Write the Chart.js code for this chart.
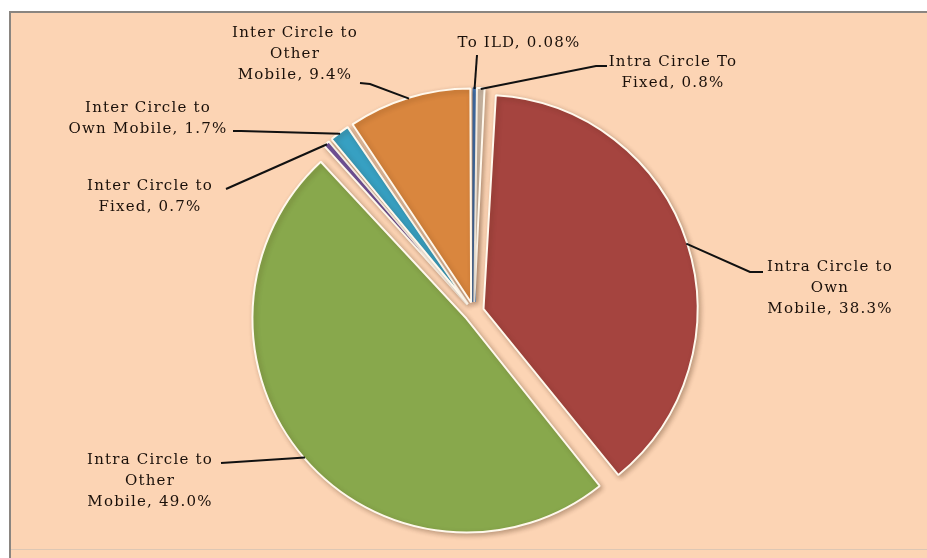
<!DOCTYPE html>
<html>
<head>
<meta charset="utf-8">
<script src="https://cdn.jsdelivr.net/npm/chart.js@4"></script>
<style>
  html, body { margin: 0; padding: 0; background: #fff; }
  canvas { display: block; }
</style>
</head>
<body>
<canvas id="chart" width="927" height="558"></canvas>
<script>
// data, clockwise from 12 o'clock
const categories = [
  'To ILD',
  'Intra Circle To\nFixed',
  'Intra Circle to\nOwn\nMobile',
  'Intra Circle to\nOther\nMobile',
  'Inter Circle to\nFixed',
  'Inter Circle to\nOwn Mobile',
  'Inter Circle to\nOther\nMobile'
];
const shares = [0.08, 0.8, 38.3, 49.0, 0.7, 1.7, 9.4];
const sliceColors = ['#3F76B8', '#CDBBA8', '#A5443F', '#88A84C', '#7355A0', '#37A0C2', '#D9863E'];
// the ILD sliver is thinner than its border, so it gets a wider edge in its own colour
const edgeColors = ['#3F76B8', '#FFF8EC', '#FFF8EC', '#FFF8EC', '#FFF8EC', '#FFF8EC', '#FFF8EC'];
const edgeWidths = [4, 2, 2, 2, 2, 2, 2];

// where each label sits (text centre x, first line y) and the bend of its leader line
const labelSpots = [
  { x: 519, y: 43, bend: [[477, 55]] },
  { x: 673, y: 62, bend: [[607, 66], [596, 66]] },
  { x: 830, y: 267, bend: [[763, 272], [750, 272]] },
  { x: 150, y: 460, bend: [[221, 463]] },
  { x: 150, y: 186, bend: [[226, 189]] },
  { x: 148, y: 108, bend: [[233, 131], [241, 131]] },
  { x: 295, y: 33, bend: [[360, 83], [370, 84]] }
];

function pct(v) {
  return (v < 0.1 ? v.toFixed(2) : v.toFixed(1)) + '%';
}

// v4 grows the radius of exploded thin slices; keep every slice the same size instead
if (Chart.ArcElement) {
  const arcDraw = Chart.ArcElement.prototype.draw;
  Chart.ArcElement.prototype.draw = function (ctx) {
    const push = (this.options.offset || 0) / 4;
    const fix = 1 - Math.sin(Math.min(Math.PI, this.circumference || 0));
    const r = this.outerRadius;
    this.outerRadius = r - push * fix;
    arcDraw.call(this, ctx);
    this.outerRadius = r;
  };
}

const frame = {
  id: 'frame',
  beforeDraw(chart) {
    const ctx = chart.ctx;
    ctx.save();
    ctx.fillStyle = '#ffffff';
    ctx.fillRect(0, 0, chart.width, chart.height);
    ctx.fillStyle = '#FCD4B4';
    ctx.fillRect(10, 12, chart.width - 10, chart.height - 12);
    ctx.strokeStyle = '#8a8580';
    ctx.lineWidth = 2;
    ctx.beginPath();
    ctx.moveTo(10, chart.height);
    ctx.lineTo(10, 12);
    ctx.lineTo(chart.width, 12);
    ctx.stroke();
    ctx.strokeStyle = 'rgba(200,190,180,0.6)';
    ctx.lineWidth = 1;
    ctx.beginPath();
    ctx.moveTo(11, 549.5);
    ctx.lineTo(chart.width, 549.5);
    ctx.stroke();
    ctx.restore();
  },
  beforeDatasetsDraw(chart) {
    const ctx = chart.ctx;
    ctx.save();
    ctx.shadowColor = 'rgba(60,30,10,0.3)';
    ctx.shadowBlur = 5;
    ctx.shadowOffsetX = 2;
    ctx.shadowOffsetY = 2;
  },
  afterDatasetsDraw(chart) {
    const ctx = chart.ctx;
    ctx.restore();
    const arcs = chart.getDatasetMeta(0).data;
    ctx.save();
    ctx.font = '15px "DejaVu Serif"';
    ctx.letterSpacing = '1.2px';
    ctx.fillStyle = '#1a100a';
    ctx.textAlign = 'center';
    ctx.textBaseline = 'middle';
    ctx.strokeStyle = '#111';
    ctx.lineWidth = 2;
    arcs.forEach((arc, i) => {
      const spot = labelSpots[i];
      const lines = categories[i].split('\n');
      lines[lines.length - 1] += ', ' + pct(shares[i]);
      lines.forEach((t, k) => ctx.fillText(t, spot.x, spot.y + k * 21));

      const p = arc.getProps(['x', 'y', 'startAngle', 'endAngle', 'outerRadius'], true);
      const mid = (p.startAngle + p.endAngle) / 2;
      const push = (arc.options.offset || 0) / 4;
      const r = p.outerRadius + push - 1;
      ctx.beginPath();
      spot.bend.forEach((pt, k) => (k ? ctx.lineTo(pt[0], pt[1]) : ctx.moveTo(pt[0], pt[1])));
      ctx.lineTo(p.x + Math.cos(mid) * r, p.y + Math.sin(mid) * r);
      ctx.stroke();
    });
    ctx.restore();
  }
};

new Chart(document.getElementById('chart'), {
  type: 'pie',
  data: {
    labels: categories,
    datasets: [{
      data: shares,
      backgroundColor: sliceColors,
      borderColor: edgeColors,
      borderWidth: edgeWidths,
      offset: 40,
      radius: 214
    }]
  },
  options: {
    responsive: false,
    animation: false,
    layout: { padding: { left: 21, right: 0, top: 70, bottom: 4 } },
    plugins: {
      legend: { display: false },
      tooltip: { enabled: false }
    }
  },
  plugins: [frame]
});
</script>
</body>
</html>
